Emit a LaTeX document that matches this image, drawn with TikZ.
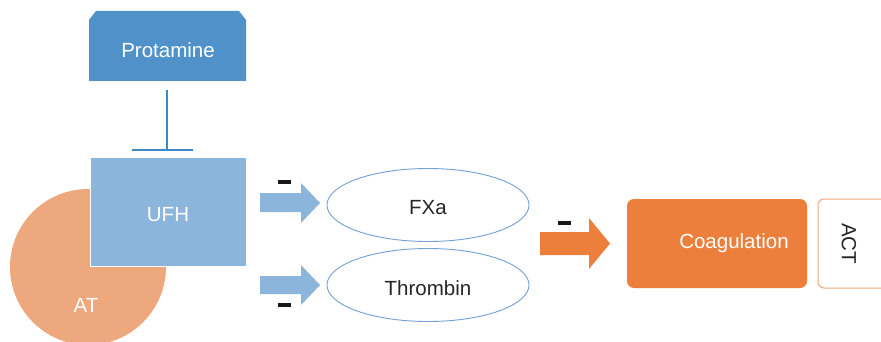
\documentclass[tikz,border=0pt]{standalone}
\usepackage{fontspec}
\setmainfont{Liberation Sans}
\definecolor{protblue}{HTML}{4F91C8}
\definecolor{ufhblue}{HTML}{8BB5DA}
\definecolor{inhblue}{HTML}{3F88C5}
\definecolor{ellblue}{HTML}{6FA0D8}
\definecolor{atorange}{HTML}{EDA87E}
\definecolor{coagorange}{HTML}{EB7F3B}
\definecolor{actorange}{HTML}{F0A875}
\tikzset{
  lbl/.style={font=\fontsize{20.5}{24}\selectfont, inner sep=0pt},
  whitelbl/.style={lbl, text=white},
  darklbl/.style={lbl, text=black!85},
  minusbar/.style={fill=black!90, inner sep=0pt, minimum width=13pt, minimum height=4pt},
  target/.style={ellipse, draw=ellblue, line width=0.9pt, minimum width=202pt, minimum height=73pt, inner sep=0pt},
  blockarrow/.style={fill=ufhblue},
}
\usetikzlibrary{shapes.geometric}
\begin{document}
\begin{tikzpicture}[x=1pt,y=-1pt]
\useasboundingbox (0,0) rectangle (881,342);
\clip (0,0) rectangle (881,342);

% Antithrombin disc, partly behind the heparin box
\fill[atorange] (88,267) circle (78);
\node[whitelbl] (at) at (86,305) {AT};

% Unfractionated heparin
\filldraw[fill=ufhblue, draw=white, line width=1pt] (90,158) rectangle (246,266);
\node[whitelbl] (ufh) at (168,215) {UFH};

% Protamine box with snipped top corners
\fill[protblue] (89,81) -- (89,20) -- (96,11) -- (239,11) -- (246,20) -- (246,81) -- cycle;
\node[whitelbl] (prot) at (168,50) {Protamine};

% Inhibition of UFH by protamine
\coordinate (inhtop) at (167,90);
\coordinate (inhbar) at (167,150);
\draw[inhblue, line width=1.6pt] (inhtop) -- (inhbar);
\draw[inhblue, line width=1.6pt] ([xshift=-35pt]inhbar) -- ([xshift=26pt]inhbar);

% Targets
\node[target] (fxa) at (428,205) {};
\node[darklbl] at (428,207.5) {FXa};
\node[target] (thr) at (428,285) {};
\node[darklbl] at (428,288) {Thrombin};

% Block arrows from UFH to its targets
\fill[blockarrow] (260,193) -- (301,193) -- (301,183) -- (320,203) -- (301,223) -- (301,212) -- (260,212) -- cycle;
\fill[blockarrow] (260,276) -- (301,276) -- (301,265) -- (320,285) -- (301,305) -- (301,294) -- (260,294) -- cycle;
\node[minusbar] (m1) at (284.5,182) {};
\node[minusbar] (m2) at (284.5,305) {};

% Arrow towards coagulation
\fill[coagorange] (540,232) -- (589,232) -- (589,218) -- (610,243.5) -- (589,269) -- (589,255) -- (540,255) -- cycle;
\node[minusbar] (m3) at (564.5,222.5) {};

% Coagulation and its assay
\fill[coagorange, rounded corners=7pt] (627,199) rectangle (807,288);
\node[whitelbl] (coag) at (734,243.5) {Coagulation};
\draw[actorange, line width=1pt, rounded corners=6pt] (818,199) rectangle (895,288);
\node[darklbl, rotate=-90] (act) at (849,243.5) {ACT};
\end{tikzpicture}
\end{document}
